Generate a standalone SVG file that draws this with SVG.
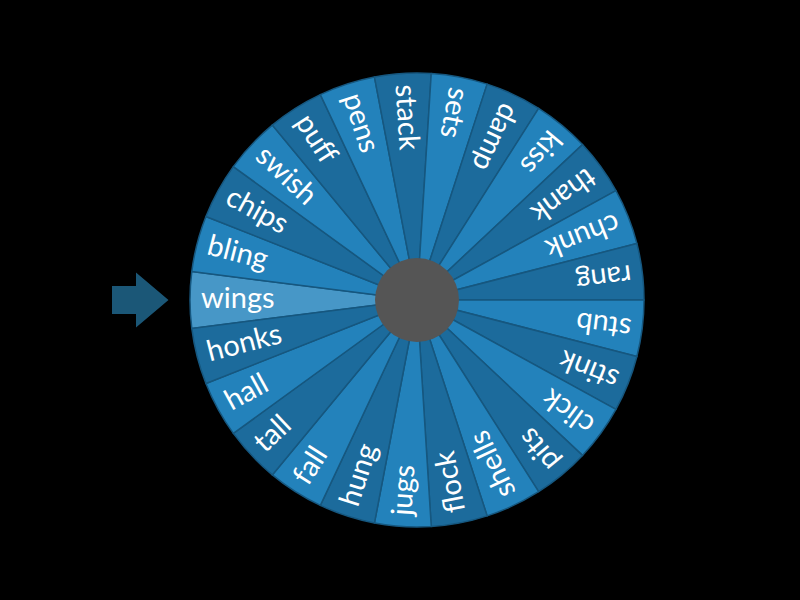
<svg xmlns="http://www.w3.org/2000/svg" xmlns:xlink="http://www.w3.org/1999/xlink" width="800" height="600" viewBox="0 0 800 600">
<style>
.w{stroke:#16577f;stroke-width:1.5;stroke-linejoin:round}
.lt{fill:#2382bb}
.dk{fill:#1c6b9c}
.hi{fill:#4797c7}
text{font-family:Lato,"Noto Sans",sans-serif;font-size:29px;fill:#ffffff}
</style>
<defs>
<path id="wedge" d="M0,0 L-225.21,28.45 A227,227 0 0 1 -225.21,-28.45 Z"/>
</defs>
<rect width="800" height="600" fill="#000000"/>
<g id="pointer"><path d="M112,286 L136,286 L136,272.5 L168.5,300 L136,327.5 L136,314 L112,314 Z" fill="#1b5777"/></g>
<g id="wheel">
<g id="seg-wings" transform="translate(417,300) rotate(0)"><use href="#wedge" class="w hi"/><text x="-216" y="8">wings</text></g>
<g id="seg-bling" transform="translate(417,300) rotate(14.4)"><use href="#wedge" class="w lt"/><text x="-216" y="8">bling</text></g>
<g id="seg-chips" transform="translate(417,300) rotate(28.8)"><use href="#wedge" class="w dk"/><text x="-216" y="8">chips</text></g>
<g id="seg-swish" transform="translate(417,300) rotate(43.2)"><use href="#wedge" class="w lt"/><text x="-216" y="8">swish</text></g>
<g id="seg-puff" transform="translate(417,300) rotate(57.6)"><use href="#wedge" class="w dk"/><text x="-216" y="8">puff</text></g>
<g id="seg-pens" transform="translate(417,300) rotate(72)"><use href="#wedge" class="w lt"/><text x="-216" y="8">pens</text></g>
<g id="seg-stack" transform="translate(417,300) rotate(86.4)"><use href="#wedge" class="w dk"/><text x="-216" y="8">stack</text></g>
<g id="seg-sets" transform="translate(417,300) rotate(100.8)"><use href="#wedge" class="w lt"/><text x="-216" y="8">sets</text></g>
<g id="seg-damp" transform="translate(417,300) rotate(115.2)"><use href="#wedge" class="w dk"/><text x="-216" y="8">damp</text></g>
<g id="seg-kiss" transform="translate(417,300) rotate(129.6)"><use href="#wedge" class="w lt"/><text x="-216" y="8">kiss</text></g>
<g id="seg-thank" transform="translate(417,300) rotate(144)"><use href="#wedge" class="w dk"/><text x="-216" y="8">thank</text></g>
<g id="seg-chunk" transform="translate(417,300) rotate(158.4)"><use href="#wedge" class="w lt"/><text x="-216" y="8">chunk</text></g>
<g id="seg-rang" transform="translate(417,300) rotate(172.8)"><use href="#wedge" class="w dk"/><text x="-216" y="8">rang</text></g>
<g id="seg-stub" transform="translate(417,300) rotate(187.2)"><use href="#wedge" class="w lt"/><text x="-216" y="8">stub</text></g>
<g id="seg-stink" transform="translate(417,300) rotate(201.6)"><use href="#wedge" class="w dk"/><text x="-216" y="8">stink</text></g>
<g id="seg-click" transform="translate(417,300) rotate(216)"><use href="#wedge" class="w lt"/><text x="-216" y="8">click</text></g>
<g id="seg-pits" transform="translate(417,300) rotate(230.4)"><use href="#wedge" class="w dk"/><text x="-216" y="8">pits</text></g>
<g id="seg-shells" transform="translate(417,300) rotate(244.8)"><use href="#wedge" class="w lt"/><text x="-216" y="8">shells</text></g>
<g id="seg-flock" transform="translate(417,300) rotate(259.2)"><use href="#wedge" class="w dk"/><text x="-216" y="8">flock</text></g>
<g id="seg-jugs" transform="translate(417,300) rotate(273.6)"><use href="#wedge" class="w lt"/><text x="-216" y="8">jugs</text></g>
<g id="seg-hung" transform="translate(417,300) rotate(288)"><use href="#wedge" class="w dk"/><text x="-216" y="8">hung</text></g>
<g id="seg-fall" transform="translate(417,300) rotate(302.4)"><use href="#wedge" class="w lt"/><text x="-216" y="8">fall</text></g>
<g id="seg-tall" transform="translate(417,300) rotate(316.8)"><use href="#wedge" class="w dk"/><text x="-216" y="8">tall</text></g>
<g id="seg-hall" transform="translate(417,300) rotate(331.2)"><use href="#wedge" class="w lt"/><text x="-216" y="8">hall</text></g>
<g id="seg-honks" transform="translate(417,300) rotate(345.6)"><use href="#wedge" class="w dk"/><text x="-216" y="8">honks</text></g>
</g>
<g id="hub"><circle cx="417" cy="300" r="42" fill="#555555"/></g>
</svg>
